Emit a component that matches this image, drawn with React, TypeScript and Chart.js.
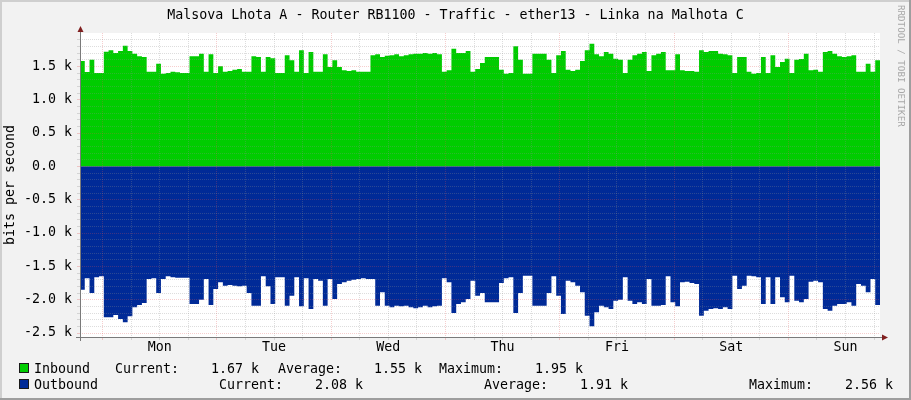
import React, { useEffect, useRef } from "react";
import { Chart, registerables } from "chart.js";

Chart.register(...registerables);

// ---------- data ----------
const TITLE = "Malsova Lhota A - Router RB1100 - Traffic - ether13 - Linka na Malhota C";
const Y_TITLE = "bits per second";
const WATERMARK = "RRDTOOL / TOBI OETIKER";
const DAY_LABELS = ["Mon", "Tue", "Wed", "Thu", "Fri", "Sat", "Sun"];

const SPAN_HOURS = 168; // one week, hourly samples
const FIRST_MIDNIGHT_HOUR = 4.75; // hours from graph start to Monday 00:00
const GRID_STEP_HOURS = 6;
const Y_MIN_K = -2.56;
const Y_MAX_K = 2.0;
const Y_MINOR_STEP_K = 0.1;
const Y_MAJOR_STEP_K = 0.5;

// inbound traffic, k bits/s, one value per hour
const INBOUND_K = [
  1.58, 1.415, 1.6, 1.4, 1.4, 1.72, 1.74, 1.7, 1.73, 1.81,
  1.73, 1.69, 1.65, 1.64, 1.42, 1.42, 1.54, 1.39, 1.4, 1.42,
  1.41, 1.4, 1.4, 1.65, 1.65, 1.69, 1.42, 1.68, 1.4, 1.5,
  1.42, 1.43, 1.45, 1.46, 1.42, 1.42, 1.65, 1.64, 1.42, 1.64,
  1.62, 1.4, 1.4, 1.665, 1.59, 1.42, 1.74, 1.4, 1.715, 1.42,
  1.42, 1.68, 1.49, 1.59, 1.49, 1.44, 1.43, 1.44, 1.42, 1.42,
  1.42, 1.665, 1.68, 1.64, 1.66, 1.665, 1.68, 1.65, 1.665, 1.68,
  1.69, 1.69, 1.7, 1.69, 1.7, 1.68, 1.42, 1.44, 1.765, 1.7,
  1.7, 1.73, 1.42, 1.46, 1.55, 1.64, 1.64, 1.64, 1.45, 1.39,
  1.4, 1.8, 1.6, 1.39, 1.39, 1.69, 1.69, 1.69, 1.6, 1.4,
  1.665, 1.73, 1.45, 1.43, 1.45, 1.58, 1.74, 1.84, 1.68, 1.65,
  1.715, 1.69, 1.615, 1.6, 1.4, 1.6, 1.665, 1.69, 1.715, 1.43,
  1.665, 1.69, 1.715, 1.44, 1.44, 1.68, 1.44, 1.43, 1.43, 1.42,
  1.74, 1.715, 1.73, 1.73, 1.69, 1.68, 1.665, 1.4, 1.64, 1.64,
  1.42, 1.39, 1.4, 1.64, 1.4, 1.665, 1.49, 1.565, 1.615, 1.4,
  1.6, 1.61, 1.69, 1.44, 1.45, 1.42, 1.715, 1.73, 1.69, 1.65,
  1.64, 1.65, 1.665, 1.42, 1.42, 1.54, 1.42, 1.59,
];

// outbound traffic, k bits/s, one value per hour (drawn below zero)
const OUTBOUND_K = [
  1.85, 1.68, 1.9, 1.665, 1.65, 2.265, 2.265, 2.23, 2.29, 2.34,
  2.25, 2.115, 2.08, 2.05, 1.69, 1.68, 1.9, 1.69, 1.65, 1.665,
  1.67, 1.67, 1.67, 2.065, 2.065, 2.0, 1.69, 2.08, 1.84, 1.74,
  1.79, 1.78, 1.79, 1.8, 1.79, 1.9, 2.09, 2.09, 1.65, 1.8,
  2.065, 1.665, 1.665, 2.09, 1.94, 1.665, 2.1, 1.68, 2.14, 1.69,
  1.715, 2.09, 1.69, 1.99, 1.765, 1.74, 1.715, 1.7, 1.69, 1.68,
  1.69, 1.69, 2.09, 1.89, 2.09, 2.115, 2.09, 2.1, 2.09, 2.115,
  2.13, 2.115, 2.09, 2.115, 2.1, 2.09, 1.68, 1.74, 2.2, 2.065,
  2.04, 1.99, 1.715, 1.94, 1.9, 2.04, 2.04, 2.04, 1.75, 1.68,
  1.665, 2.2, 1.9, 1.64, 1.64, 2.09, 2.09, 2.09, 1.9, 1.65,
  1.94, 2.215, 1.715, 1.74, 1.79, 1.89, 2.24, 2.4, 2.19, 2.09,
  2.115, 2.14, 2.015, 2.0, 1.665, 2.015, 2.065, 2.04, 2.065, 1.69,
  2.09, 2.09, 2.08, 1.65, 2.04, 2.1, 1.74, 1.73, 1.75, 1.765,
  2.24, 2.165, 2.14, 2.13, 2.14, 2.115, 2.14, 1.64, 1.84, 1.79,
  1.64, 1.65, 1.665, 2.065, 1.665, 2.065, 1.665, 1.965, 2.04, 1.64,
  2.015, 2.04, 1.99, 1.73, 1.715, 1.74, 2.14, 2.165, 2.09, 2.065,
  2.065, 2.04, 2.09, 1.765, 1.79, 1.89, 1.69, 2.08,
];

const INBOUND_LEGEND = ["Inbound", "Current:", "1.67 k", "Average:", "1.55 k", "Maximum:", "1.95 k"];
const OUTBOUND_LEGEND = ["Outbound", "Current:", "2.08 k", "Average:", "1.91 k", "Maximum:", "2.56 k"];

// ---------- styles ----------
const FONT = '"DejaVu Sans Mono", "Liberation Mono", monospace';
const FONT_SIZE = 13.3;
const C_BACK = "#F2F2F2";
const C_SHADE_A = "#CFCFCF";
const C_SHADE_B = "#9E9E9E";
const C_GRID = "rgba(143,143,143,0.3)";
const C_MGRID = "rgba(222,79,79,0.28)";
const C_AXIS = "#7a7a7a";
const C_ARROW = "#801F1F";
const C_IN = "#00CC00";
const C_OUT = "#002A97";

const LEGEND_X_ROW1 = [34, 115, 211, 278, 374, 439, 535];
const LEGEND_X_ROW2 = [34, 219, 315, 484, 580, 749, 845];

const isMultiple = (v: number, step: number) => {
  const r = v / step;
  return Math.abs(r - Math.round(r)) < 1e-6;
};

const rrdFrame = {
  id: "rrdFrame",
  beforeDraw(chart: any) {
    const { ctx, chartArea: a, width, height } = chart;
    ctx.save();
    ctx.fillStyle = C_BACK;
    ctx.fillRect(0, 0, width, height);
    ctx.fillStyle = C_SHADE_A;
    ctx.fillRect(0, 0, width, 2);
    ctx.fillRect(0, 0, 2, height);
    ctx.fillStyle = C_SHADE_B;
    ctx.fillRect(0, height - 2, width, 2);
    ctx.fillRect(width - 2, 0, 2, height);
    ctx.fillStyle = "#FFFFFF";
    ctx.fillRect(a.left, a.top, a.right - a.left, a.bottom - a.top);
    ctx.restore();
  },
  afterDraw(chart: any) {
    const { ctx, chartArea: a } = chart;
    ctx.save();
    ctx.strokeStyle = C_AXIS;
    ctx.lineWidth = 1;
    ctx.beginPath();
    ctx.moveTo(a.left - 4, a.bottom + 0.5);
    ctx.lineTo(a.right + 4, a.bottom + 0.5);
    ctx.moveTo(a.left + 0.5, a.bottom + 4);
    ctx.lineTo(a.left + 0.5, a.top - 4);
    ctx.stroke();
    ctx.fillStyle = C_ARROW;
    ctx.beginPath();
    ctx.moveTo(a.right + 2, a.bottom - 2.5);
    ctx.lineTo(a.right + 2, a.bottom + 3.5);
    ctx.lineTo(a.right + 8, a.bottom + 0.5);
    ctx.closePath();
    ctx.fill();
    ctx.beginPath();
    ctx.moveTo(a.left - 2.5, a.top - 1);
    ctx.lineTo(a.left + 3.5, a.top - 1);
    ctx.lineTo(a.left + 0.5, a.top - 7);
    ctx.closePath();
    ctx.fill();
    ctx.restore();
  },
};

export default function App() {
  const canvasRef = useRef<HTMLCanvasElement>(null);

  useEffect(() => {
    const canvas = canvasRef.current;
    if (!canvas) return;

    const inData = INBOUND_K.map((v, i) => ({ x: i, y: v }));
    inData.push({ x: SPAN_HOURS, y: INBOUND_K[INBOUND_K.length - 1] });
    const outData = OUTBOUND_K.map((v, i) => ({ x: i, y: -v }));
    outData.push({ x: SPAN_HOURS, y: -OUTBOUND_K[OUTBOUND_K.length - 1] });

    const xTicks: number[] = [];
    for (let t = FIRST_MIDNIGHT_HOUR; t <= SPAN_HOURS + 1e-9; t += GRID_STEP_HOURS) xTicks.push(t);
    const isMidnight = (t: number) => isMultiple(t - FIRST_MIDNIGHT_HOUR, 24);
    const isNoon = (t: number) => isMultiple(t - FIRST_MIDNIGHT_HOUR - 12, 24);

    const yTicks: number[] = [];
    for (
      let k = Math.ceil(Y_MIN_K / Y_MINOR_STEP_K - 1e-9);
      k * Y_MINOR_STEP_K < Y_MAX_K - 1e-9;
      k++
    ) {
      yTicks.push(Math.round(k * Y_MINOR_STEP_K * 10) / 10);
    }

    const xColor = (c: any) => (c.tick && isMidnight(c.tick.value) ? C_MGRID : C_GRID);
    const yColor = (c: any) => (c.tick && isMultiple(c.tick.value, Y_MAJOR_STEP_K) ? C_MGRID : C_GRID);

    const chart = new Chart(canvas, {
      type: "line",
      data: {
        datasets: [
          {
            label: "Inbound",
            data: inData,
            backgroundColor: C_IN,
            borderColor: C_IN,
            borderWidth: 0,
            fill: "origin",
            stepped: true,
            pointRadius: 0,
          },
          {
            label: "Outbound",
            data: outData,
            backgroundColor: C_OUT,
            borderColor: C_OUT,
            borderWidth: 0,
            fill: "origin",
            stepped: true,
            pointRadius: 0,
          },
        ],
      },
      options: {
        responsive: false,
        animation: false,
        devicePixelRatio: 1,
        events: [],
        layout: { padding: { left: 0, right: 31, top: 33, bottom: 0 } },
        plugins: {
          legend: { display: false },
          tooltip: { enabled: false },
          title: { display: false },
        },
        scales: {
          x: {
            type: "linear",
            min: 0,
            max: SPAN_HOURS,
            afterBuildTicks: (s: any) => {
              s.ticks = xTicks.map((v) => ({ value: v }));
            },
            afterFit: (s: any) => {
              s.height = 63;
            },
            ticks: {
              autoSkip: false,
              maxRotation: 0,
              minRotation: 0,
              padding: 0,
              color: "#000",
              font: { family: FONT, size: FONT_SIZE },
              callback: (v: any) => {
                const t = Number(v);
                if (!isNoon(t)) return "";
                const idx = Math.round((t - FIRST_MIDNIGHT_HOUR - 12) / 24);
                return DAY_LABELS[idx] ?? "";
              },
            },
            grid: {
              z: 1,
              color: xColor,
              tickColor: xColor,
              tickLength: 3,
              lineWidth: 1,
              tickBorderDash: [],
            },
            border: { display: false, dash: [1, 1] },
          },
          y: {
            type: "linear",
            min: Y_MIN_K,
            max: Y_MAX_K,
            afterBuildTicks: (s: any) => {
              s.ticks = yTicks.map((v) => ({ value: v }));
            },
            afterFit: (s: any) => {
              s.width = 80;
            },
            title: {
              display: true,
              text: Y_TITLE,
              color: "#000",
              font: { family: FONT, size: FONT_SIZE },
              padding: { top: 3, bottom: 0 },
            },
            ticks: {
              autoSkip: false,
              padding: 5,
              color: "#000",
              font: { family: FONT, size: FONT_SIZE },
              callback: (v: any) => {
                const n = Number(v);
                if (!isMultiple(n, Y_MAJOR_STEP_K)) return "";
                if (Math.abs(n) < 1e-9) return "0.0  ";
                return n.toFixed(1) + " k";
              },
            },
            grid: {
              z: 1,
              color: yColor,
              tickColor: yColor,
              tickLength: 3,
              lineWidth: 1,
              tickBorderDash: [],
            },
            border: { display: false, dash: [1, 1] },
          },
        },
      },
      plugins: [rrdFrame],
    });

    return () => chart.destroy();
  }, []);

  const textStyle: React.CSSProperties = {
    position: "absolute",
    fontFamily: FONT,
    fontSize: FONT_SIZE,
    lineHeight: "13px",
    color: "#000",
    whiteSpace: "pre",
  };

  const legendRow = (items: string[], xs: number[], top: number, color: string) => (
    <>
      <div
        style={{
          position: "absolute",
          left: 19,
          top: top + 1,
          width: 8,
          height: 8,
          background: color,
          border: "1px solid #1a1a1a",
        }}
      />
      {items.map((t, i) => (
        <div key={t + i} style={{ ...textStyle, left: xs[i], top }}>
          {t}
        </div>
      ))}
    </>
  );

  return (
    <div
      style={{
        position: "fixed",
        left: 0,
        top: 0,
        width: 911,
        height: 400,
        overflow: "hidden",
      }}
    >
      <canvas ref={canvasRef} width={911} height={400} style={{ display: "block", width: 911, height: 400 }} />
      <div style={{ ...textStyle, left: 0, width: 911, top: 8, textAlign: "center" }}>{TITLE}</div>
      <div
        style={{
          position: "absolute",
          left: 896,
          top: 5,
          writingMode: "vertical-rl",
          fontFamily: FONT,
          fontSize: 9.2,
          lineHeight: "10px",
          color: "#a8a8a8",
          whiteSpace: "pre",
        }}
      >
        {WATERMARK}
      </div>
      {legendRow(INBOUND_LEGEND, LEGEND_X_ROW1, 362, C_IN)}
      {legendRow(OUTBOUND_LEGEND, LEGEND_X_ROW2, 378, C_OUT)}
    </div>
  );
}
